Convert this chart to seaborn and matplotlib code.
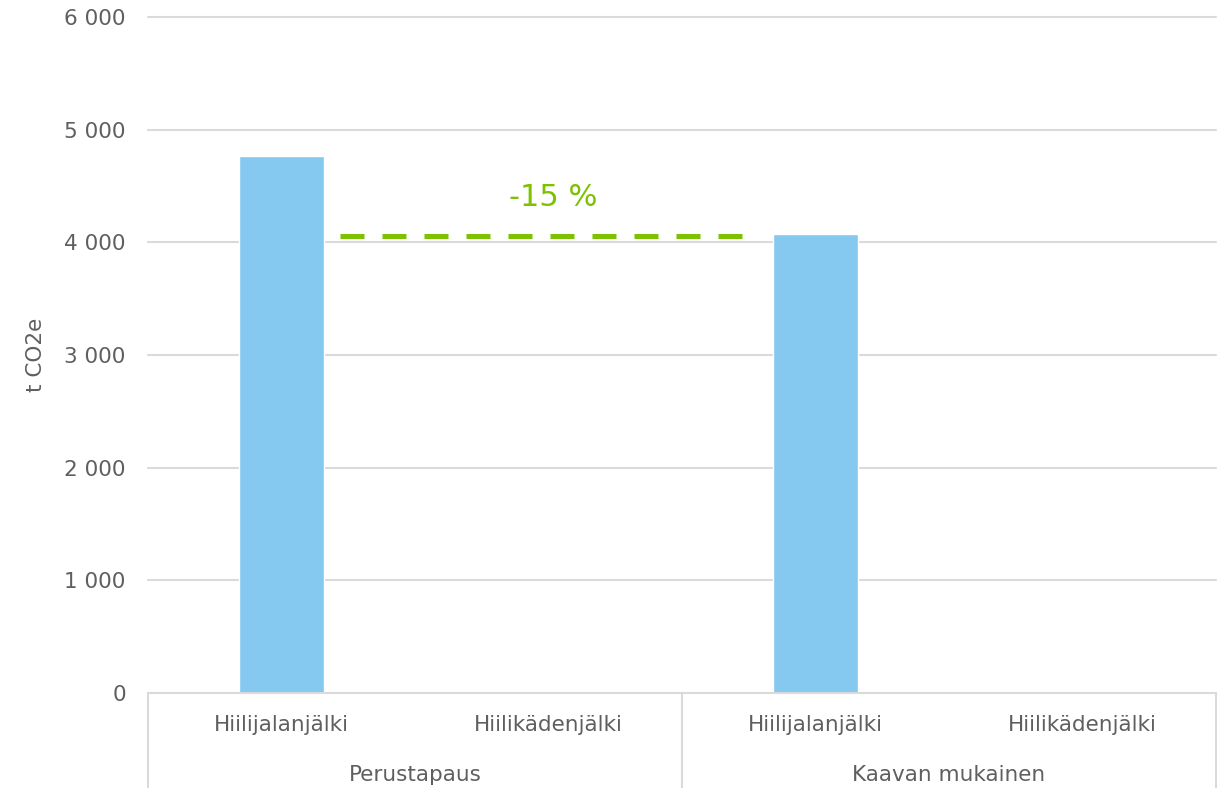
import matplotlib
matplotlib.use("Agg")
import matplotlib.pyplot as plt
import seaborn as sns
import pandas as pd

# Data
scenarios = ["Perustapaus", "Kaavan mukainen"]
measures = ["Hiilijalanjälki", "Hiilikädenjälki"]
values = [4769, 0, 4071, 0]
change_label = "-15 %"
y_ticks = [0, 1000, 2000, 3000, 4000, 5000, 6000]
y_label = "t CO2e"

bar_color = "#85C8F0"
accent = "#7DC200"
text_color = "#5F5F5F"
grid_color = "#DADADA"

sns.set_theme(style="white")
plt.rcParams["font.family"] = ["DejaVu Sans"]

n = len(scenarios) * len(measures)
df = pd.DataFrame({
    "pos": list(range(n)),
    "value": values,
})

fig = plt.figure(figsize=(12.18, 7.88), dpi=100)
ax = fig.add_axes([148 / 1218, 1 - 693 / 788, (1216 - 148) / 1218, (693 - 17) / 788])

bar_w = 0.315
sns.barplot(data=df, x="pos", y="value", color=bar_color, width=bar_w,
            saturation=1, ax=ax, zorder=3, errorbar=None)

ax.set_xlim(-0.5, n - 0.5)
ax.set_ylim(0, 6000)
ax.set_yticks(y_ticks)
ax.set_yticklabels([f"{v:,}".replace(",", " ") for v in y_ticks],
                   fontsize=15.5, color=text_color)
ax.tick_params(axis="y", length=0, pad=16)
for y in y_ticks[1:]:
    ax.axhline(y, color=grid_color, lw=1.5, zorder=1, clip_on=False)

for s in ["top", "right", "left"]:
    ax.spines[s].set_visible(False)
ax.spines["bottom"].set_color(grid_color)
ax.spines["bottom"].set_linewidth(1.5)
ax.spines["bottom"].set_zorder(4)

# Two-level category axis
ax.set_xticks(range(n))
ax.set_xticklabels(measures * len(scenarios), fontsize=15.5, color=text_color)
ax.tick_params(axis="x", length=0, pad=16)
ax.set_xlabel("")
xt = ax.get_xaxis_transform()
for i, name in enumerate(scenarios):
    center = i * len(measures) + (len(measures) - 1) / 2
    ax.text(center, -0.121, name, transform=xt, ha="center", va="center",
            fontsize=15.5, color=text_color, clip_on=False)
for b in range(len(scenarios) + 1):
    xb = b * len(measures) - 0.5
    ax.plot([xb, xb], [0, -0.145], transform=xt, color=grid_color, lw=1.5,
            clip_on=False, zorder=4)

ax.set_ylabel(y_label, fontsize=15.5, color=text_color, labelpad=13)

# Reduction marker between the two footprint bars
first, second = values[0], values[2]
x0 = 0 + bar_w / 2 + 0.062
x1 = 2 - bar_w / 2 - 0.108
ax.plot([x0, x1], [second - 15, second - 15], color=accent, lw=3.6,
        linestyle=(0, (4.8, 3.6)), dash_capstyle="butt",
        solid_capstyle="butt", zorder=5)
ax.text(1.017, second + 330, change_label, ha="center", va="center",
        fontsize=22, color=accent)

fig.savefig("out.png", dpi=100)
